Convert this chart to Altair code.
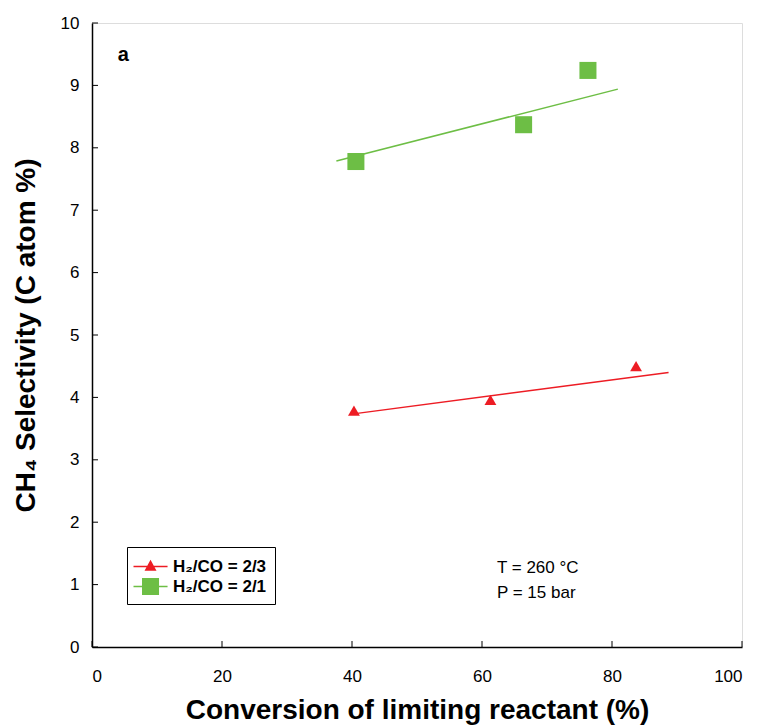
import altair as alt
import pandas as pd

# ---- data ----
series = ["H₂/CO = 2/3", "H₂/CO = 2/1"]
conv_23 = [40.3, 61.3, 83.7]
sel_23 = [3.79, 3.96, 4.50]
conv_21 = [40.6, 66.4, 76.3]
sel_21 = [7.78, 8.37, 9.24]
fit_23_x = [40.5, 88.7]
fit_23_y = [3.74, 4.40]
fit_21_x = [37.6, 80.9]
fit_21_y = [7.79, 8.94]
x_ticks = [0, 20, 40, 60, 80, 100]
y_ticks = [0, 1, 2, 3, 4, 5, 6, 7, 8, 9, 10]
ann_text = ["T = 260 °C", "P = 15 bar"]
ann_x = [62.3, 62.3]
ann_y = [1.27, 0.86]
panel_label = ["a"]
panel_x = [4.8]
panel_y = [9.49]

RED = "#ED1C24"
GREEN = "#6DBE45"
FONT = "Liberation Sans"

xs = alt.Scale(domain=[0, 100], nice=False, zero=False)
ys = alt.Scale(domain=[0, 10], nice=False, zero=False)

xaxis = alt.Axis(values=x_ticks, ticks=False, grid=False, domainColor="black",
                 domainWidth=1.5, labelFontSize=17, labelColor="black",
                 labelPadding=21, labelFont=FONT, format="d",
                 title="Conversion of limiting reactant (%)", titleFontSize=28,
                 titleFontWeight="bold", titleColor="black", titlePadding=12,
                 titleFont=FONT)
yaxis = alt.Axis(values=y_ticks, ticks=False, grid=False, domainColor="black",
                 domainWidth=1.5, labelFontSize=17, labelColor="black",
                 labelPadding=13, labelFont=FONT, format="d",
                 title="CH₄ Selectivity (C atom %)", titleFontSize=28,
                 titleFontWeight="bold", titleColor="black", titlePadding=20,
                 titleFont=FONT)

df23 = pd.DataFrame({"x": conv_23, "y": sel_23})
df21 = pd.DataFrame({"x": conv_21, "y": sel_21})
f23 = pd.DataFrame({"x": fit_23_x, "y": fit_23_y})
f21 = pd.DataFrame({"x": fit_21_x, "y": fit_21_y})

X = alt.X("x:Q", scale=xs, axis=xaxis)
Y = alt.Y("y:Q", scale=ys, axis=yaxis)

line23 = alt.Chart(f23).mark_line(color=RED, strokeWidth=1.5).encode(x=X, y=Y)
line21 = alt.Chart(f21).mark_line(color=GREEN, strokeWidth=1.5).encode(x=X, y=Y)
pts23 = alt.Chart(df23).mark_point(shape="triangle-up", filled=True, color=RED,
                                   opacity=1, size=140).encode(x=X, y=Y)
pts21 = alt.Chart(df21).mark_point(shape="square", filled=True, color=GREEN,
                                   opacity=1, size=290).encode(x=X, y=Y)

# inward ticks
xt = alt.Chart(pd.DataFrame({"t": x_ticks})).mark_rule(color="black", strokeWidth=1).encode(
    x=alt.X("t:Q", scale=xs), y=alt.value(624), y2=alt.value(618))
yt = alt.Chart(pd.DataFrame({"t": y_ticks})).mark_rule(color="black", strokeWidth=1).encode(
    y=alt.Y("t:Q", scale=ys), x=alt.value(0), x2=alt.value(6))

ann = alt.Chart(pd.DataFrame({"x": ann_x, "y": ann_y, "t": ann_text})).mark_text(
    align="left", baseline="middle", fontSize=17, font=FONT, color="black").encode(
    x=alt.X("x:Q", scale=xs), y=alt.Y("y:Q", scale=ys), text="t:N")
lab = alt.Chart(pd.DataFrame({"x": panel_x, "y": panel_y, "t": panel_label})).mark_text(
    align="center", baseline="middle", fontSize=20, fontWeight="bold", font=FONT,
    color="black").encode(x=alt.X("x:Q", scale=xs), y=alt.Y("y:Q", scale=ys), text="t:N")

# legend-only layer (no rows drawn); symbol = short line through the marker
tri_path = "M-1.13,-0.057H1.83V0.057H-1.13Z M0.35,-0.58L0.87,0.38H-0.17Z"
sq_path = "M-1.13,-0.057H1.83V0.057H-1.13Z M-0.39,-0.74H1.09V0.74H-0.39Z"
leg = alt.Legend(orient="none", legendX=35, legendY=524, title=None,
                 strokeColor="black", fillColor="white", padding=8,
                 labelFont=FONT, labelFontSize=17, labelFontWeight="bold",
                 labelColor="black", symbolSize=529, symbolStrokeWidth=0,
                 labelOffset=15, rowPadding=0)
legdf = pd.DataFrame({"series": series, "x": [0, 0], "y": [0, 0]})
legend_layer = alt.Chart(legdf).transform_filter("false").mark_point(
    filled=True, opacity=1).encode(
    x=alt.X("x:Q", scale=xs), y=alt.Y("y:Q", scale=ys),
    color=alt.Color("series:N", scale=alt.Scale(domain=series, range=[RED, GREEN]), legend=leg),
    shape=alt.Shape("series:N", scale=alt.Scale(domain=series, range=[tri_path, sq_path]), legend=leg),
)

chart = alt.layer(line23, line21, pts23, pts21, xt, yt, ann, lab, legend_layer).properties(
    width=650, height=624,
    autosize=alt.AutoSizeParams(type="none"),
    padding={"left": 92, "top": 23, "right": 20, "bottom": 79},
).configure_view(stroke="black", strokeWidth=1.5).configure(font=FONT, background="white")

chart.save("out.html", embed_options={"renderer": "svg", "actions": False})
